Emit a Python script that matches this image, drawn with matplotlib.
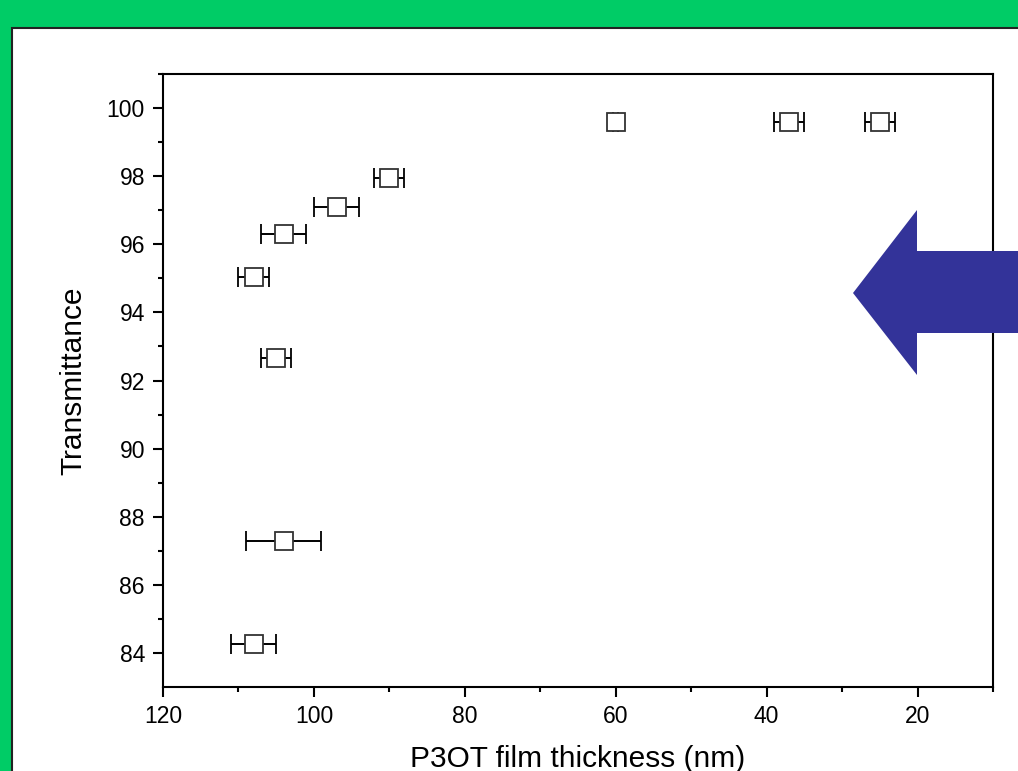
import matplotlib
matplotlib.use('Agg')
import matplotlib.pyplot as plt
from matplotlib.patches import Rectangle, Polygon

plt.rcParams['font.family'] = ['Liberation Sans', 'DejaVu Sans']

# film thickness (nm), its error, and transmittance (%)
thickness = [60, 37, 25, 90, 97, 104, 108, 105, 104, 108]
thickness_err = [0.3, 2, 2, 2, 3, 3, 2, 2, 5, 3]
transmittance = [99.6, 99.6, 99.6, 97.95, 97.1, 96.3, 95.05, 92.65, 87.3, 84.25]

xticks = [120, 100, 80, 60, 40, 20]
yticks = [84, 86, 88, 90, 92, 94, 96, 98, 100]

W, H = 1018, 771
fig = plt.figure(figsize=(W / 100, H / 100), dpi=100)
fig.patch.set_facecolor('#00cc66')

# white panel with dark edge
fig.patches.append(Rectangle((12 / W, -0.1), 1.2, (H - 28) / H + 0.1, transform=fig.transFigure,
                             facecolor='white', edgecolor='#222222', linewidth=1.5, zorder=0))

ax = fig.add_axes([163 / W, 1 - 687 / H, (993 - 163) / W, (687 - 74) / H])
ax.set_zorder(2)
ax.set_facecolor('white')
ax.errorbar(thickness, transmittance, xerr=thickness_err, fmt='s', mfc='white', mec='#333333',
            mew=1.3, ms=12.5, ecolor='black', elinewidth=1.4, capsize=7, capthick=1.4, zorder=3)

ax.set_xlim(120, 10)
ax.set_ylim(83, 101)
ax.set_xticks(xticks)
ax.set_xticks([110, 90, 70, 50, 30, 10], minor=True)
ax.set_yticks(yticks)
ax.set_yticks([85, 87, 89, 91, 93, 95, 97, 99, 101], minor=True)
ax.tick_params(which='major', direction='out', length=7, width=1.5, labelsize=16.5, pad=6)
ax.tick_params(which='minor', direction='out', length=3.8, width=1.5)
for s in ax.spines.values():
    s.set_linewidth(1.5)

ax.set_xlabel('P3OT film thickness (nm)', fontsize=21.5, labelpad=12)
ax.set_ylabel('Transmittance', fontsize=21.5, labelpad=14)

# blue arrow on the right
pts = [(853, 293), (917, 210), (917, 251), (1030, 251), (1030, 333), (917, 333), (917, 375)]
fig.patches.append(Polygon([(x / W, 1 - y / H) for x, y in pts], closed=True,
                           transform=fig.transFigure, facecolor='#333399', edgecolor='none', zorder=5))

fig.savefig('out.png', dpi=100, facecolor=fig.get_facecolor())
